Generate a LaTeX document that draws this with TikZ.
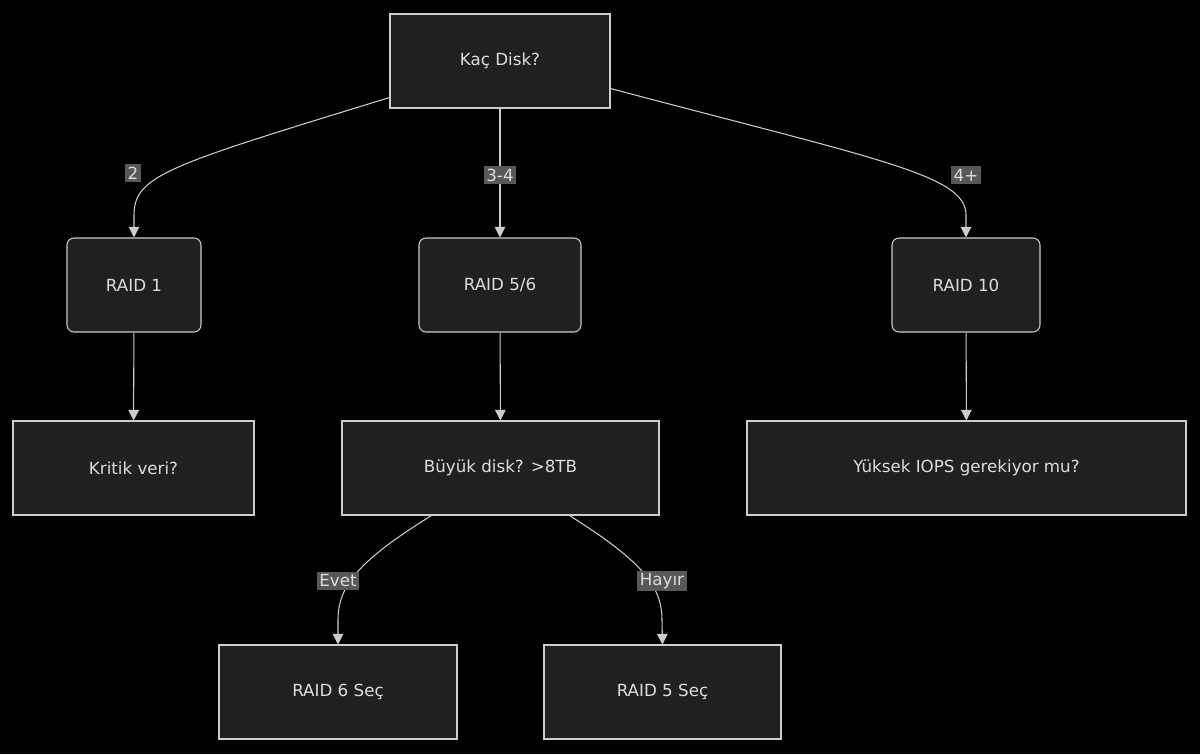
\documentclass[tikz,border=0pt]{standalone}
\usepackage{fontspec}
\setmainfont{DejaVu Sans}
\usetikzlibrary{arrows.meta,calc}
\definecolor{nodefill}{HTML}{1F2020}
\definecolor{nodeline}{HTML}{CCCCCC}
\definecolor{txt}{HTML}{DDDDDD}
\definecolor{lblfill}{HTML}{585858}
\tikzset{
    box/.style={draw=nodeline, fill=nodefill, text=txt, line width=0.6pt, minimum height=94*0.02cm, inner sep=0pt, font=\fontsize{9.5}{11}\selectfont},
    rbox/.style={box, rounded corners=4pt},
    lbl/.style={fill=lblfill, text=txt, inner sep=1.5pt, font=\fontsize{9.5}{11}\selectfont},
    arr/.style={draw=nodeline, line width=0.6pt, -{Triangle[length=6pt,width=6pt]}}
}
\begin{document}
\begin{tikzpicture}[x=0.02cm, y=-0.02cm]
        \fill[black] (0,0) rectangle (1200,754);
        % nodes
        \node[box, minimum width=220*0.02cm] (kac) at (500,61) {Kaç Disk?};
        \node[rbox, minimum width=134*0.02cm] (raid1) at (134,285) {RAID 1};
        \node[rbox, minimum width=162*0.02cm] (raid56) at (500,285) {RAID 5/6};
        \node[rbox, minimum width=148*0.02cm] (raid10) at (966,285) {RAID 10};
        \node[box, minimum width=241*0.02cm] (kritik) at (133.5,468) {Kritik veri?};
        \node[box, minimum width=317*0.02cm] (buyuk) at (500.5,468) {Büyük disk? >8TB};
        \node[box, minimum width=439*0.02cm] (iops) at (966.5,468) {Yüksek IOPS gerekiyor mu?};
        \node[box, minimum width=238*0.02cm] (raid6) at (338,692) {RAID 6 Seç};
        \node[box, minimum width=237*0.02cm] (raid5) at (662.5,692) {RAID 5 Seç};
        % edges
        \draw[arr] ($(kac.south west)+(0,-11)$) .. controls (170,165) and (134,175) .. (134,215) -- (raid1.north);
        \draw[arr] (kac.south) -- (raid56.north);
        \draw[arr] ($(kac.south east)+(0,-20)$) .. controls (880,160) and (966,175) .. (966,215) -- (raid10.north);
        \draw[arr] (raid1) -- (kritik);
        \draw[arr] (raid56) -- (buyuk);
        \draw[arr] (raid10) -- (iops);
        \draw[arr] ($(buyuk.south west)+(90,0)$) .. controls (360,560) and (338,585) .. (338,620) -- (raid6.north);
        \draw[arr] ($(buyuk.south east)+(-90,0)$) .. controls (640,560) and (662,585) .. (662,620) -- (raid5.north);
        % labels
        \node[lbl] (l2) at (133,173) {2};
        \node[lbl] (l34) at (500,175) {3-4};
        \node[lbl] (l4p) at (966,175) {4+};
        \node[lbl] (levet) at (338,581) {Evet};
        \node[lbl] (lhayir) at (662,581) {Hayır};
\end{tikzpicture}
\end{document}
